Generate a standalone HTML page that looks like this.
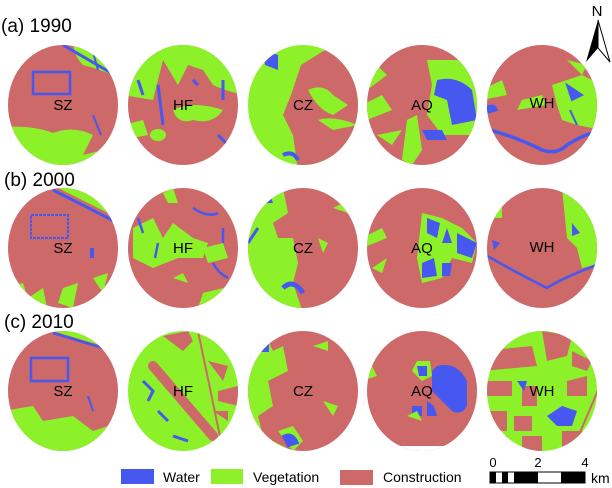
<!DOCTYPE html>
<html><head><meta charset="utf-8"><style>
html,body{margin:0;padding:0;background:#fff}
svg{display:block}
text{font-family:"Liberation Sans","DejaVu Sans",sans-serif}
</style></head><body>
<svg width="612" height="488" viewBox="0 0 612 488" xmlns="http://www.w3.org/2000/svg">
<defs>
<clipPath id="c"><ellipse cx="0" cy="0" rx="55" ry="60"/></clipPath>
</defs>
<g font-size="19" fill="#000">
<text x="1" y="32">(a) 1990</text>
<text x="4" y="186">(b) 2000</text>
<text x="4" y="328">(c) 2010</text>
</g>

<!-- Row 1 -->
<g transform="translate(63,105)" clip-path="url(#c)">
<rect x="-60" y="-65" width="120" height="130" fill="#CD6969"/>
<path d="M-60 22 Q-30 20 -10 28 Q10 20 30 30 L20 50 L40 45 L60 20 L60 65 L-60 65Z" fill="#8DF12A"/>
<path d="M10 -65 L60 -65 L60 -25 Q40 -35 20 -40 Q10 -50 10 -65Z" fill="#8DF12A"/>
<path d="M0 -60 L55 -28" stroke="#4658F0" stroke-width="3" fill="none"/>
<path d="M28 -60 L35 -35" stroke="#4658F0" stroke-width="2" fill="none"/>
<rect x="-30" y="-33" width="37" height="22" fill="none" stroke="#4658F0" stroke-width="2.5"/>
<path d="M30 10 L38 30" stroke="#4658F0" stroke-width="2" fill="none"/>
</g>
<g transform="translate(183,105)" clip-path="url(#c)">
<rect x="-60" y="-65" width="120" height="130" fill="#CD6969"/>
<path d="M-60 -65 L60 -65 L60 -10 Q40 -15 30 -20 L20 -35 L5 -40 L-5 -20 L-20 -45 L-30 -5 L-60 -10Z" fill="#8DF12A"/>
<path d="M-10 5 Q10 -5 40 5 Q30 20 10 15 Q-5 20 -10 5Z" fill="#8DF12A"/>
<path d="M-60 20 L-40 15 L-35 30 L-60 35Z" fill="#8DF12A"/>
<ellipse cx="-25" cy="30" rx="8" ry="6" fill="#8DF12A"/>
<path d="M-25 -20 L-20 20 M40 -25 L40 -5 M-45 -25 L-40 -10 M10 -25 L15 -20 M35 30 L45 40" stroke="#4658F0" stroke-width="3" fill="none"/>
</g>
<g transform="translate(303,105)" clip-path="url(#c)">
<rect x="-60" y="-65" width="120" height="130" fill="#8DF12A"/>
<path d="M-2 -40 L30 -60 L60 -60 L60 65 L-5 65 L-10 30 L-20 10 L-12 -10Z" fill="#CD6969"/>
<path d="M5 -15 Q20 -22 30 -10 L45 0 L30 10 Q15 5 5 -15Z" fill="#8DF12A"/>
<path d="M15 15 Q30 10 55 20 L30 25Z" fill="#8DF12A"/>
<path d="M-40 -55 L-25 -50 L-25 -35 L-38 -40Z" fill="#4658F0"/>
<path d="M-20 50 Q-10 45 -5 55" stroke="#4658F0" stroke-width="4" fill="none"/>
</g>
<g transform="translate(422,105)" clip-path="url(#c)">
<rect x="-60" y="-65" width="120" height="130" fill="#CD6969"/>
<path d="M5 -45 L40 -45 L60 -30 L60 30 L20 30 L5 10 L10 -20Z" fill="#8DF12A"/>
<path d="M15 -25 Q35 -30 50 -15 L55 15 L30 20 L25 -5 L12 -10Z" fill="#4658F0"/>
<path d="M0 25 L20 25 L25 35 L5 35Z" fill="#4658F0"/>
<path d="M-60 0 L-40 -10 L-30 5 L-55 15Z M-60 -20 L-45 -40 L-35 -30 L-55 -15Z M-15 15 L-5 10 L0 45 L-10 60 L-20 55 Z M-45 30 L-20 25 L-30 40Z" fill="#8DF12A"/>
</g>
<g transform="translate(542,105)" clip-path="url(#c)">
<rect x="-60" y="-65" width="120" height="130" fill="#CD6969"/>
<path d="M10 -20 L40 -30 L60 -20 L60 25 L35 20 L20 15 L15 0Z" fill="#8DF12A"/>
<path d="M-60 -15 L-40 -25 L-35 -10 L-60 -5Z M-60 -60 L-40 -60 L-45 -35 L-60 -30Z M25 -45 L45 -40 L40 -30 Z M-20 -5 L0 -10 L5 0 L-25 5Z" fill="#8DF12A"/>
<path d="M-60 23 Q-30 30 0 45 Q15 50 25 40 Q40 30 60 25" stroke="#4658F0" stroke-width="3.5" fill="none"/>
<path d="M-55 2 Q-48 -2 -45 5 L-55 8Z M25 -20 L40 -10 L30 -5Z M28 5 L35 20" fill="#4658F0" stroke="#4658F0" stroke-width="2"/>
</g>

<!-- Row 2 -->
<g transform="translate(63,248)" clip-path="url(#c)">
<rect x="-60" y="-65" width="120" height="130" fill="#CD6969"/>
<path d="M-60 40 L-40 35 L-35 50 L-20 40 L-15 65 L-60 65Z M0 40 L15 35 L10 60 L-5 55Z M30 30 L45 25 L40 45 Z" fill="#8DF12A"/>
<path d="M-5 -60 L55 -30 L60 -25 L60 -65Z" fill="#8DF12A"/>
<path d="M-10 -58 L55 -25" stroke="#4658F0" stroke-width="3" fill="none"/>
<rect x="-32" y="-33" width="37" height="23" fill="none" stroke="#4658F0" stroke-width="2" stroke-dasharray="3,1"/>
<rect x="27" y="0" width="4" height="10" fill="#4658F0"/>
</g>
<g transform="translate(183,248)" clip-path="url(#c)">
<rect x="-60" y="-65" width="120" height="130" fill="#CD6969"/>
<path d="M-50 -20 L-30 -30 L-20 -10 L-10 -25 L10 -10 L25 -5 L20 10 L-5 10 L-30 20 L-50 10Z" fill="#8DF12A"/>
<path d="M-20 -55 L-10 -60 L-5 -45 L-15 -45Z M20 0 L40 -5 L45 10 L25 15Z M-10 30 L0 25 L5 35Z M20 45 L40 40 L35 55 L15 60Z" fill="#8DF12A"/>
<path d="M-45 -30 L-40 -15 M-25 -5 L-28 10 M40 -20 L40 -5 M30 15 Q35 25 45 30 M10 -40 Q25 -30 35 -35" stroke="#4658F0" stroke-width="2.5" fill="none"/>
</g>
<g transform="translate(303,248)" clip-path="url(#c)">
<rect x="-60" y="-65" width="120" height="130" fill="#CD6969"/>
<path d="M-40 -60 L-20 -60 L-15 -35 L-30 -25 L-25 -10 L-10 -10 L-5 15 L-10 35 L0 65 L-60 65 L-60 -40Z" fill="#8DF12A"/>
<path d="M-45 -60 L-35 -60 L-30 -45 L-45 -45Z" fill="#4658F0"/>
<path d="M-20 40 Q-10 30 0 45" stroke="#4658F0" stroke-width="5" fill="none"/>
<path d="M-55 -5 L-45 -20" stroke="#4658F0" stroke-width="3"/>
<path d="M15 -10 L25 -5 L20 5Z M30 -40 L40 -45 L45 -35Z" fill="#8DF12A"/>
</g>
<g transform="translate(422,248)" clip-path="url(#c)">
<rect x="-60" y="-65" width="120" height="130" fill="#CD6969"/>
<path d="M0 -35 L20 -30 L40 -20 L55 -5 L50 15 L30 10 L20 30 L0 35 L-5 10Z" fill="#8DF12A"/>
<path d="M5 -30 L18 -25 L15 -10 L5 -15Z M25 -20 L30 -5 L20 -5Z M35 -15 L55 -5 L50 10 L35 5Z M0 15 L12 10 L15 28 L0 30Z M20 15 L30 15 L28 28 L20 28Z" fill="#4658F0"/>
<path d="M-60 -10 L-40 -20 L-35 -10 L-60 0Z M-50 20 L-35 10 L-40 25Z" fill="#8DF12A"/>
</g>
<g transform="translate(542,248)" clip-path="url(#c)">
<rect x="-60" y="-65" width="120" height="130" fill="#CD6969"/>
<path d="M-60 -50 L-40 -50 L-40 -30 L-60 -30Z M20 -60 L60 -40 L60 15 L40 20 L35 0 L25 -10Z" fill="#8DF12A"/>
<path d="M-60 5 Q-25 25 5 40 Q20 30 60 15" stroke="#4658F0" stroke-width="2.5" fill="none"/>
<path d="M-50 -8 L-42 -5 L-48 2Z M30 -25 L38 -15 L30 -12Z" fill="#4658F0"/>
</g>

<!-- Row 3 -->
<g transform="translate(63,391)" clip-path="url(#c)">
<rect x="-60" y="-65" width="120" height="130" fill="#CD6969"/>
<path d="M-60 20 L-30 15 L-20 30 L10 25 L30 40 L60 30 L60 65 L-60 65Z M-10 -60 L40 -45 L60 -40 L60 -65Z" fill="#8DF12A"/>
<path d="M-10 -58 L50 -40" stroke="#4658F0" stroke-width="2.5"/>
<rect x="-32" y="-33" width="37" height="23" fill="none" stroke="#4658F0" stroke-width="2.5"/>
<path d="M25 5 L30 20" stroke="#4658F0" stroke-width="2"/>
</g>
<g transform="translate(183,391)" clip-path="url(#c)">
<rect x="-60" y="-65" width="120" height="130" fill="#8DF12A"/>
<path d="M-30 -25 L30 45" stroke="#CD6969" stroke-width="10" stroke-linecap="round"/>
<path d="M15 -60 L40 60" stroke="#CD6969" stroke-width="2"/>
<path d="M-20 -55 L0 -40 L10 -50 L5 -60Z M25 -30 L45 -25 L40 -10Z M35 0 L55 -5 L55 15 L35 10Z M30 20 L45 20 L45 30Z" fill="#CD6969"/>
<path d="M-40 -10 L-30 0 L-35 10 M-25 20 L-15 30 M-10 45 L5 50" stroke="#4658F0" stroke-width="3" fill="none"/>
</g>
<g transform="translate(303,391)" clip-path="url(#c)">
<rect x="-60" y="-65" width="120" height="130" fill="#CD6969"/>
<path d="M-60 -40 L-40 -60 L-30 -40 L-20 -45 L-15 -20 L-35 -10 L-30 15 L-45 25 L-40 45 L-20 55 L0 65 L-60 65Z" fill="#8DF12A"/>
<path d="M-25 40 L-10 35 L0 50 L-10 60Z M20 10 L35 15 L30 25Z M10 -45 L25 -50 L25 -40Z" fill="#8DF12A"/>
<path d="M-50 -50 L-35 -55 L-35 -40 L-50 -40Z M-20 45 Q-10 40 -5 52 L-15 55Z M-50 30 L-45 40" fill="#4658F0" stroke="#4658F0" stroke-width="2"/>
</g>
<g transform="translate(422,391)" clip-path="url(#c)">
<rect x="-60" y="-65" width="120" height="130" fill="#CD6969"/>
<path d="M15 -25 Q35 -30 45 -10 L45 15 Q40 25 30 20 L10 0 L10 -20Z" fill="#4658F0"/>
<path d="M-5 -30 L8 -30 L10 -15 L0 -10 L-10 -20Z" fill="#8DF12A"/>
<path d="M-5 -25 L5 -25 L5 -15 L-3 -15Z M5 10 L12 15 L15 25 L5 25Z M-10 15 L0 15 L0 25 L-10 25Z" fill="#4658F0"/>
<path d="M-60 -20 L-50 -25 L-45 -15 L-60 -10Z M-15 25 L-5 20 L0 30 Z" fill="#8DF12A"/>
<rect x="-60" y="55" width="120" height="10" fill="#fff"/>
</g>
<g transform="translate(542,391)" clip-path="url(#c)">
<rect x="-60" y="-65" width="120" height="130" fill="#8DF12A"/>
<path d="M-60 -40 L-10 -45 L-5 -25 L-60 -20Z M0 -60 L30 -55 L25 -35 L5 -30Z M-60 -10 L-30 -10 L-30 5 L-60 5Z M-20 -5 L-5 -5 L-5 15 L-20 15Z M-60 20 L-35 20 L-35 40 L-60 40Z M-28 25 L-10 25 L-10 40 L-28 40Z M-20 45 L0 45 L0 65 L-20 65Z M25 -10 L45 -15 L45 5 L25 5Z M20 40 L50 40 L45 65 L20 65Z M-55 45 L-35 45 L-35 65 L-55 65Z M30 -40 L50 -30 L45 -20 L30 -25Z" fill="#CD6969"/>
<path d="M60 -10 L30 60" stroke="#CD6969" stroke-width="2"/>
<path d="M5 25 L20 15 L35 20 L30 35 L15 35Z M-25 -10 L-15 -10 L-18 0Z" fill="#4658F0"/>
</g>

<g font-size="15" fill="#000" text-anchor="middle" font-family="'Noto Sans CJK SC',sans-serif">
<text x="63" y="110">SZ</text><text x="183" y="110">HF</text><text x="303" y="110">CZ</text><text x="422" y="110">AQ</text><text x="542" y="108">WH</text>
<text x="63" y="253">SZ</text><text x="183" y="253">HF</text><text x="303" y="253">CZ</text><text x="422" y="253">AQ</text><text x="542" y="252">WH</text>
<text x="63" y="396">SZ</text><text x="183" y="396">HF</text><text x="303" y="396">CZ</text><text x="422" y="396">AQ</text><text x="542" y="396">WH</text>
</g>

<!-- North arrow -->
<text x="597" y="16" font-size="15" text-anchor="middle">N</text>
<path d="M598 20 L586 62 L598 48 Z" fill="#000"/>
<path d="M598 20 L610 62 L598 48 Z" fill="#fff" stroke="#000" stroke-width="1"/>

<!-- Legend -->
<rect x="121" y="469" width="33" height="15" fill="#4658F0"/>
<text x="163" y="482" font-size="14">Water</text>
<rect x="211" y="469" width="32" height="15" fill="#8DF12A"/>
<text x="253" y="482" font-size="14">Vegetation</text>
<rect x="340" y="470" width="33" height="15" fill="#CD6969"/>
<text x="383" y="482" font-size="14">Construction</text>

<!-- Scale bar -->
<g font-size="13" text-anchor="middle">
<text x="493" y="467" font-family="Liberation Serif">0</text>
<text x="538" y="467" font-family="Liberation Serif">2</text>
<text x="585" y="467" font-family="Liberation Serif">4</text>
</g>
<rect x="490" y="472" width="95" height="11" fill="#fff" stroke="#000" stroke-width="1"/>
<rect x="490" y="472" width="6" height="11" fill="#000"/>
<rect x="502" y="472" width="6" height="11" fill="#000"/>
<rect x="514" y="472" width="24" height="11" fill="#000"/>
<rect x="561" y="472" width="24" height="11" fill="#000"/>
<text x="591" y="483" font-size="14">km</text>
</svg>
</body></html>
